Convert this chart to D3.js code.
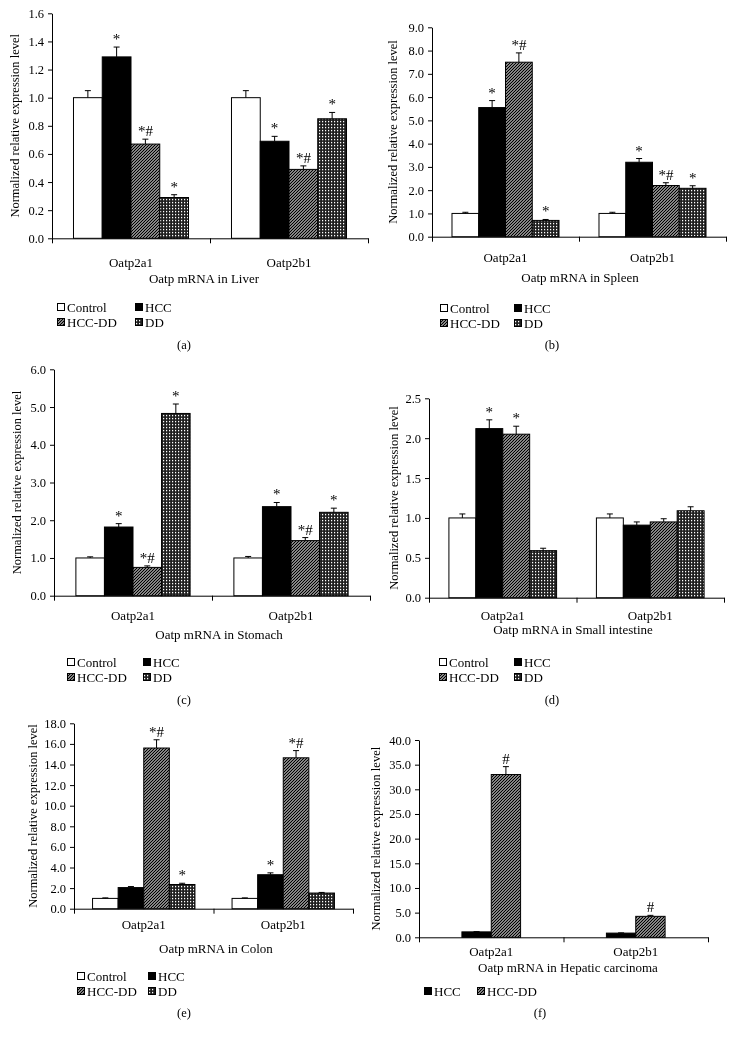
<!DOCTYPE html>
<html><head><meta charset="utf-8">
<script src="https://cdn.jsdelivr.net/npm/d3@7"></script>
<style>
body{margin:0;background:#fff;}
svg{display:block;font-family:"Liberation Serif","Times New Roman",serif;will-change:transform;}
</style></head><body>
<svg id="chart" width="734" height="1039"></svg>
<script>
// ---------- data ----------
const categories = ["Oatp2a1", "Oatp2b1"];
const series4 = ["Control", "HCC", "HCC-DD", "DD"];
const series2 = ["HCC", "HCC-DD"];

const liverValues = [[1.00, 1.29, 0.67, 0.29], [1.00, 0.69, 0.49, 0.85]];
const liverErrors = [[0.05, 0.07, 0.035, 0.02], [0.05, 0.035, 0.025, 0.045]];
const liverMarks  = [["", "*", "*#", "*"], ["", "*", "*#", "*"]];

const spleenValues = [[1.00, 5.55, 7.50, 0.70], [1.00, 3.20, 2.20, 2.08]];
const spleenErrors = [[0.05, 0.30, 0.40, 0.04], [0.05, 0.16, 0.12, 0.11]];
const spleenMarks  = [["", "*", "*#", "*"], ["", "*", "*#", "*"]];

const stomachValues = [[1.00, 1.82, 0.75, 4.83], [1.00, 2.36, 1.46, 2.21]];
const stomachErrors = [[0.03, 0.09, 0.04, 0.25], [0.04, 0.11, 0.08, 0.11]];
const stomachMarks  = [["", "*", "*#", "*"], ["", "*", "*#", "*"]];

const intestineValues = [[1.00, 2.12, 2.05, 0.59], [1.00, 0.91, 0.95, 1.09]];
const intestineErrors = [[0.05, 0.11, 0.10, 0.03], [0.05, 0.04, 0.04, 0.05]];
const intestineMarks  = [["", "*", "*", ""], ["", "", "", ""]];

const colonValues = [[1.00, 2.05, 15.60, 2.35], [1.00, 3.30, 14.65, 1.52]];
const colonErrors = [[0.05, 0.10, 0.80, 0.12], [0.05, 0.18, 0.70, 0.06]];
const colonMarks  = [["", "", "*#", "*"], ["", "*", "*#", ""]];

const hepaticValues = [[1.10, 33.0], [0.85, 4.25]];
const hepaticErrors = [[0.05, 1.6], [0.05, 0.2]];
const hepaticMarks  = [["", "#"], ["", "#"]];

const yLabelText = "Normalized relative expression level";

// ---------- layout ----------
const panels = [
  {title: "Oatp mRNA in Liver", tag: "(a)", series: series4, values: liverValues, errors: liverErrors, marks: liverMarks,
   yMax: 1.6, yStep: 0.2,
   L: {x0: 52, x1: 368, yTop: 13.3, yBot: 238.3, frac: 0.728, yLabX: 15, catY: 262, titleX: 204, titleY: 278,
       legX: [57, 135], legY: [307, 322], tagX: 184, tagY: 345}},
  {title: "Oatp mRNA in Spleen", tag: "(b)", series: series4, values: spleenValues, errors: spleenErrors, marks: spleenMarks,
   yMax: 9, yStep: 1,
   L: {x0: 432, x1: 726, yTop: 27.3, yBot: 236.7, frac: 0.728, yLabX: 393, catY: 257, titleX: 580, titleY: 277,
       legX: [440, 514], legY: [308, 323], tagX: 552, tagY: 345}},
  {title: "Oatp mRNA in Stomach", tag: "(c)", series: series4, values: stomachValues, errors: stomachErrors, marks: stomachMarks,
   yMax: 6, yStep: 1,
   L: {x0: 54, x1: 370, yTop: 369.3, yBot: 595.7, frac: 0.723, yLabX: 17, catY: 615, titleX: 219, titleY: 634,
       legX: [67, 143], legY: [662, 677], tagX: 184, tagY: 700}},
  {title: "Oatp mRNA in Small intestine", tag: "(d)", series: series4, values: intestineValues, errors: intestineErrors, marks: intestineMarks,
   yMax: 2.5, yStep: 0.5,
   L: {x0: 429, x1: 724, yTop: 398.3, yBot: 597.7, frac: 0.73, yLabX: 394, catY: 615, titleX: 573, titleY: 629,
       legX: [439, 514], legY: [662, 677], tagX: 552, tagY: 700}},
  {title: "Oatp mRNA in Colon", tag: "(e)", series: series4, values: colonValues, errors: colonErrors, marks: colonMarks,
   yMax: 18, yStep: 2,
   L: {x0: 74, x1: 353, yTop: 723.3, yBot: 908.7, frac: 0.734, yLabX: 33, catY: 924, titleX: 216, titleY: 948,
       legX: [77, 148], legY: [976, 991], tagX: 184, tagY: 1013}},
  {title: "Oatp mRNA in Hepatic carcinoma", tag: "(f)", series: series2, values: hepaticValues, errors: hepaticErrors, marks: hepaticMarks,
   yMax: 40, yStep: 5,
   L: {x0: 419, x1: 708, yTop: 740, yBot: 937.3, frac: 0.406, yLabX: 376, catY: 951, titleX: 568, titleY: 967,
       legX: [424, 477], legY: [991], tagX: 540, tagY: 1013}}
];

const FONT = '"Liberation Serif","Times New Roman",serif';
const fills = {"Control": "#fff", "HCC": "#000", "HCC-DD": "url(#hatch)", "DD": "url(#grid)"};

const svg = d3.select("#chart");
svg.append("rect").attr("width", 734).attr("height", 1039).attr("fill", "#fff");

// patterns
const defs = svg.append("defs");
const hatch = defs.append("pattern").attr("id", "hatch").attr("patternUnits", "userSpaceOnUse")
  .attr("width", 3).attr("height", 3);
hatch.append("rect").attr("width", 3).attr("height", 3).attr("fill", "#fff");
hatch.append("path").attr("d", "M-1,4 L4,-1 M-1,1 L1,-1 M2,4 L4,2")
  .attr("stroke", "#000").attr("stroke-width", 1.4);
const grid = defs.append("pattern").attr("id", "grid").attr("patternUnits", "userSpaceOnUse")
  .attr("width", 3).attr("height", 3);
grid.append("rect").attr("width", 3).attr("height", 3).attr("fill", "#1e1e1e");
grid.append("rect").attr("x", 1).attr("y", 0.9).attr("width", 1.2).attr("height", 1.4).attr("fill", "#fff");

function drawPanel(p) {
  const L = p.L;
  const g = svg.append("g");
  const y = d3.scaleLinear().domain([0, p.yMax]).range([L.yBot, L.yTop]);
  const x = d3.scaleBand().domain(categories).range([L.x0, L.x1]).paddingInner(0).paddingOuter(0);
  const n = p.series.length;
  const pad = n * (1 - L.frac) / (2 * L.frac);
  const xs = d3.scaleBand().domain(p.series).range([0, x.bandwidth()]).paddingInner(0).paddingOuter(pad);
  const bw = xs.bandwidth();

  // y axis
  const nt = Math.round(p.yMax / p.yStep);
  const ticks = d3.range(0, nt + 1).map(i => +(i * p.yStep).toFixed(3));
  const ya = g.append("g").attr("transform", `translate(${L.x0},0)`)
    .call(d3.axisLeft(y).tickValues(ticks).tickFormat(d3.format(".1f")).tickSize(4).tickSizeOuter(0).tickPadding(4));
  ya.attr("font-family", FONT).attr("font-size", 12.5);
  ya.selectAll("line,path").attr("stroke", "#000");

  // x axis (boundary ticks)
  const xb = d3.scaleLinear().domain([0, categories.length]).range([L.x0, L.x1]);
  const xa = g.append("g").attr("transform", `translate(0,${L.yBot})`)
    .call(d3.axisBottom(xb).tickValues(d3.range(0, categories.length + 1)).tickFormat("").tickSize(5).tickSizeOuter(0));
  xa.selectAll("line,path").attr("stroke", "#000");

  // bars
  const items = [];
  categories.forEach((c, i) => p.series.forEach((s, j) => items.push({c, s, v: p.values[i][j], e: p.errors[i][j], m: p.marks[i][j]})));
  g.selectAll("rect.bar").data(items).join("rect").attr("class", "bar")
    .attr("x", d => x(d.c) + xs(d.s)).attr("y", d => y(d.v))
    .attr("width", bw).attr("height", d => y(0) - y(d.v))
    .attr("fill", d => fills[d.s]).attr("stroke", "#000").attr("stroke-width", 1);

  // error bars
  const eg = g.selectAll("g.err").data(items).join("g").attr("class", "err");
  eg.append("line").attr("x1", d => x(d.c) + xs(d.s) + bw / 2).attr("x2", d => x(d.c) + xs(d.s) + bw / 2)
    .attr("y1", d => y(d.v)).attr("y2", d => y(d.v + d.e)).attr("stroke", "#000");
  eg.append("line").attr("x1", d => x(d.c) + xs(d.s) + bw / 2 - 3).attr("x2", d => x(d.c) + xs(d.s) + bw / 2 + 3)
    .attr("y1", d => y(d.v + d.e)).attr("y2", d => y(d.v + d.e)).attr("stroke", "#000");

  // significance marks
  g.selectAll("text.mark").data(items.filter(d => d.m)).join("text").attr("class", "mark")
    .attr("x", d => x(d.c) + xs(d.s) + bw / 2).attr("y", d => y(d.v + d.e) - 3)
    .attr("text-anchor", "middle").attr("font-size", 15).attr("fill", "#000").text(d => d.m);

  // category labels
  g.selectAll("text.cat").data(categories).join("text").attr("class", "cat")
    .attr("x", d => x(d) + x.bandwidth() / 2).attr("y", L.catY).attr("dy", "0.35em")
    .attr("text-anchor", "middle").attr("font-size", 13).text(d => d);

  // title
  g.append("text").attr("x", L.titleX).attr("y", L.titleY).attr("dy", "0.35em")
    .attr("text-anchor", "middle").attr("font-size", 13).text(p.title);

  // y label
  g.append("text").attr("transform", `translate(${L.yLabX},${(L.yTop + L.yBot) / 2}) rotate(-90)`)
    .attr("dy", "0.35em").attr("text-anchor", "middle").attr("font-size", 12.5).text(yLabelText);

  // legend
  const leg = g.selectAll("g.leg").data(p.series).join("g").attr("class", "leg")
    .attr("transform", (d, i) => `translate(${L.legX[i % 2]},${L.legY[Math.floor(i / 2)]})`);
  leg.append("rect").attr("x", 0.5).attr("y", -3.5).attr("width", 7).attr("height", 7)
    .attr("fill", d => fills[d]).attr("stroke", "#000").attr("stroke-width", 1);
  leg.append("text").attr("x", 10).attr("y", 0).attr("dy", "0.35em").attr("font-size", 13).text(d => d);

  // panel tag
  g.append("text").attr("x", L.tagX).attr("y", L.tagY).attr("dy", "0.35em")
    .attr("text-anchor", "middle").attr("font-size", 12.5).text(p.tag);
}

panels.forEach(drawPanel);
</script>
</body></html>
